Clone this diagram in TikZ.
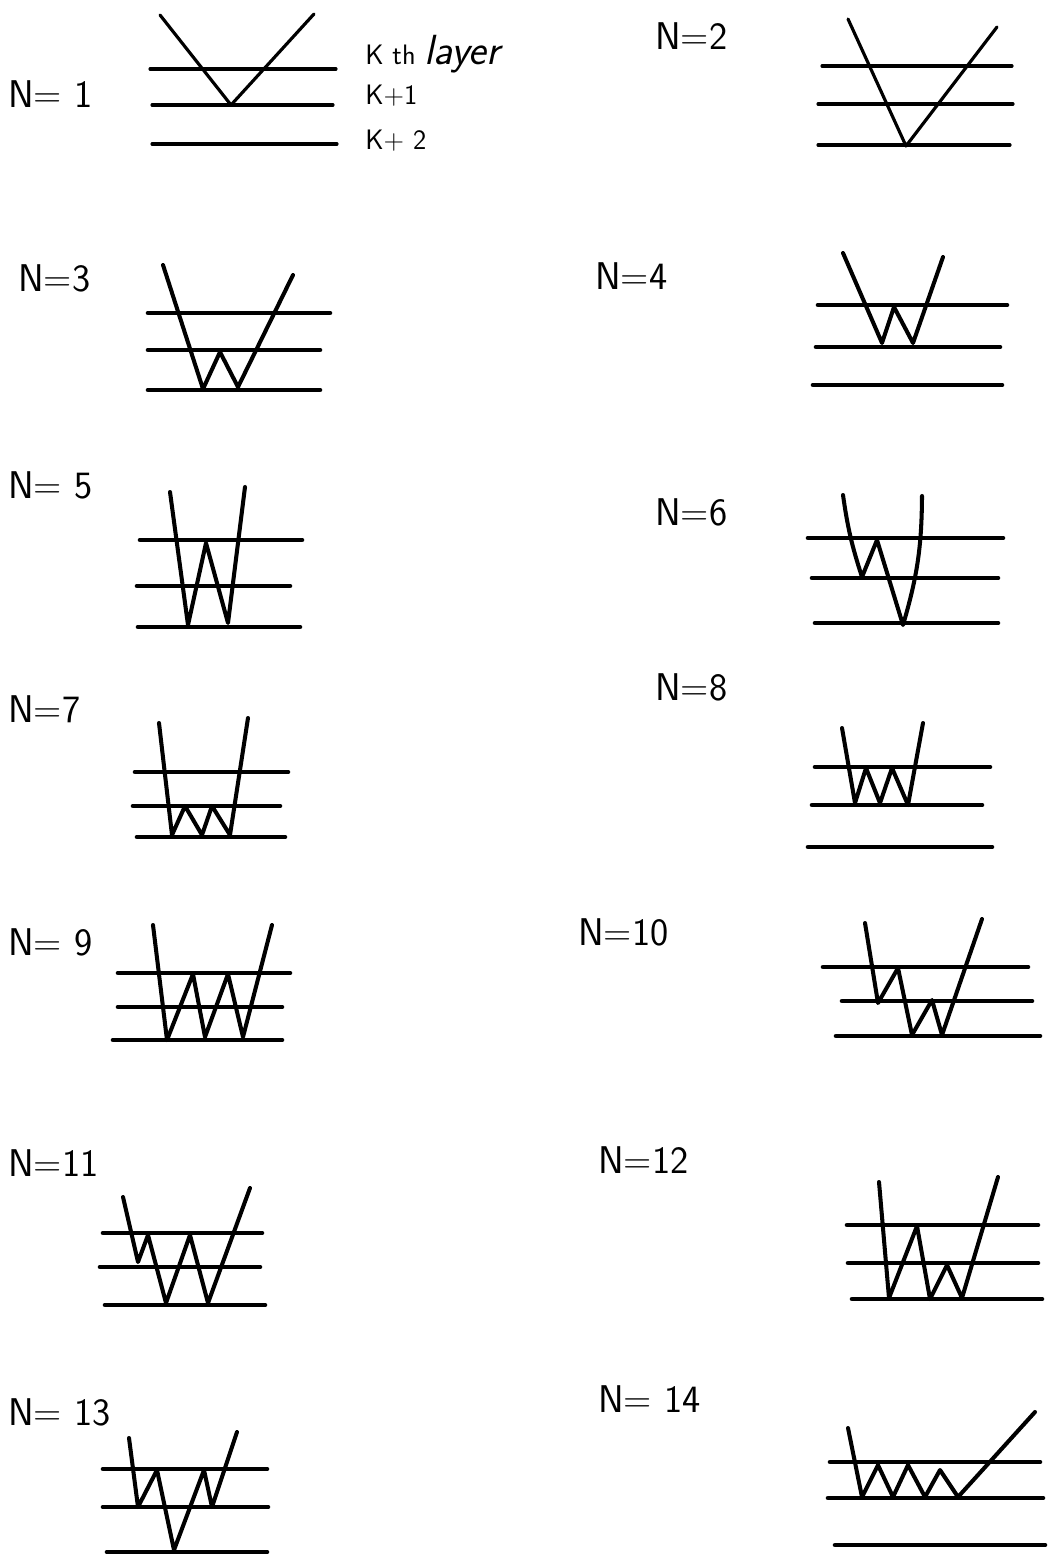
\documentclass[tikz,border=0pt]{standalone}
\usepackage{tikz}
\usetikzlibrary{positioning}

\begin{document}
\begin{tikzpicture}[x=0.02cm, y=-0.02cm,
    layer/.style={line width=2.6pt, line cap=round},
    thinlayer/.style={line width=1.8pt, line cap=round},
    walk/.style={line width=2.3pt, line cap=round, line join=round},
    lab/.style={font=\sffamily\fontsize{22}{26}\selectfont, inner sep=0pt, anchor=west},
    note/.style={font=\sffamily\fontsize{16}{18}\selectfont, inner sep=0pt, anchor=west}]
  \useasboundingbox (0,0) rectangle (1052,1554);

  % N = 1 with the layer names
  \node[lab] (lab1) at (8,94) {N= 1};
  \draw[thinlayer] (150,69) -- (336,69);
  \draw[thinlayer] (152,105) -- (333,105);
  \draw[thinlayer] (152,144) -- (337,144);
  \draw[walk, line width=1.8pt] (160,15) -- (231,105) -- (314,14);
  \node[note] (kth) at (365,54) {K th \textit{\fontsize{24}{26}\selectfont layer}};
  \node[note] (k1) at (365,96) {K+1};
  \node[note] (k2) at (365,141) {K+ 2};

  % N = 2
  \node[lab] (lab2) at (655,36) {N=2};
  \draw[thinlayer] (822,66) -- (1012,66);
  \draw[thinlayer] (818,104) -- (1013,104);
  \draw[thinlayer] (818,145) -- (1010,145);
  \draw[walk, line width=1.8pt] (848,19) -- (906,146) -- (997,27);

  % N = 3
  \node[lab] (lab3) at (18,278) {N=3};
  \draw[layer] (148,313) -- (330,313);
  \draw[layer] (148,350) -- (320,350);
  \draw[layer] (148,390) -- (320,390);
  \draw[walk] (163,265) -- (203,389) -- (220,352) -- (238,387) -- (293,275);

  % N = 4
  \node[lab] (lab4) at (595,276) {N=4};
  \draw[layer] (818,305) -- (1007,305);
  \draw[layer] (816,347) -- (1000,347);
  \draw[layer] (813,385) -- (1002,385);
  \draw[walk] (843,253) -- (882,343) -- (894,307) -- (913,343) -- (943,257);

  % N = 5
  \node[lab] (lab5) at (8,485) {N= 5};
  \draw[layer] (140,540) -- (302,540);
  \draw[layer] (137,586) -- (290,586);
  \draw[layer] (138,627) -- (300,627);
  \draw[walk] (170,492) -- (188,625) -- (206,543) -- (228,623) -- (245,487);

  % N = 6
  \node[lab] (lab6) at (655,512) {N=6};
  \draw[layer] (808,538) -- (1003,538);
  \draw[layer] (812,578) -- (998,578);
  \draw[layer] (815,623) -- (998,623);
  \draw[walk] (843,495) to[bend right=5] (862,577) -- (877,540) -- (903,625) to[bend right=8] (922,496);

  % N = 7
  \node[lab] (lab7) at (8,709) {N=7};
  \draw[layer] (135,772) -- (288,772);
  \draw[layer] (133,806) -- (280,806);
  \draw[layer] (137,837) -- (285,837);
  \draw[walk] (159,723) -- (172,835) -- (185,806) -- (202,835) -- (212,806) -- (230,835) -- (248,718);

  % N = 8
  \node[lab] (lab8) at (655,687) {N=8};
  \draw[layer] (815,767) -- (990,767);
  \draw[layer] (812,805) -- (982,805);
  \draw[layer] (808,847) -- (992,847);
  \draw[walk] (842,728) -- (855,803) -- (866,768) -- (880,803) -- (892,768) -- (908,805) -- (923,723);

  % N = 9
  \node[lab] (lab9) at (8,942) {N= 9};
  \draw[layer] (118,973) -- (290,973);
  \draw[layer] (118,1007) -- (282,1007);
  \draw[layer] (113,1040) -- (282,1040);
  \draw[walk] (153,925) -- (167,1040) -- (193,974) -- (205,1037) -- (228,974) -- (243,1037) -- (272,925);

  % N = 10
  \node[lab] (lab10) at (578,932) {N=10};
  \draw[layer] (823,967) -- (1028,967);
  \draw[layer] (842,1001) -- (1032,1001);
  \draw[layer] (836,1036) -- (1040,1036);
  \draw[walk] (865,923) -- (878,1003) -- (898,968) -- (912,1035) -- (932,1000) -- (942,1035) -- (982,919);

  % N = 11
  \node[lab] (lab11) at (8,1163) {N=11};
  \draw[layer] (103,1233) -- (262,1233);
  \draw[layer] (100,1267) -- (260,1267);
  \draw[layer] (105,1305) -- (265,1305);
  \draw[walk] (123,1197) -- (138,1262) -- (148,1235) -- (166,1303) -- (190,1235) -- (208,1303) -- (250,1188);

  % N = 12
  \node[lab] (lab12) at (598,1160) {N=12};
  \draw[layer] (847,1225) -- (1038,1225);
  \draw[layer] (848,1263) -- (1038,1263);
  \draw[layer] (852,1299) -- (1042,1299);
  \draw[walk] (879,1182) -- (889,1298) -- (917,1226) -- (930,1299) -- (947,1265) -- (962,1298) -- (998,1177);

  % N = 13
  \node[lab] (lab13) at (8,1412) {N= 13};
  \draw[layer] (103,1469) -- (267,1469);
  \draw[layer] (103,1507) -- (268,1507);
  \draw[layer] (107,1552) -- (267,1552);
  \draw[walk] (129,1438) -- (138,1507) -- (157,1470) -- (174,1550) -- (204,1470) -- (212,1507) -- (237,1432);

  % N = 14
  \node[lab] (lab14) at (598,1399) {N= 14};
  \draw[layer] (830,1462) -- (1040,1462);
  \draw[layer] (828,1498) -- (1043,1498);
  \draw[layer] (835,1545) -- (1045,1545);
  \draw[walk] (848,1428) -- (862,1497) -- (878,1465) -- (893,1497) -- (908,1465) -- (925,1497) -- (940,1470) -- (958,1497) -- (1035,1412);
\end{tikzpicture}
\end{document}
